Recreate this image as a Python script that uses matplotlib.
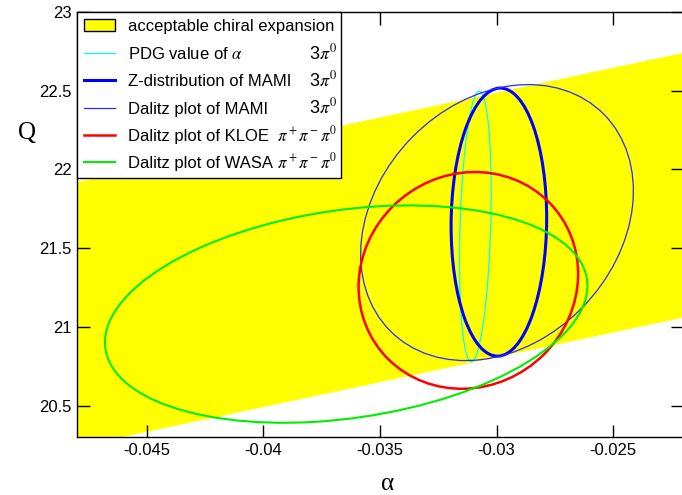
import numpy as np
import matplotlib
matplotlib.use("Agg")
import matplotlib.pyplot as plt
import matplotlib.transforms as transforms
from matplotlib.patches import Ellipse, Patch
from matplotlib.lines import Line2D

plt.rcParams['font.family'] = ['Liberation Sans', 'DejaVu Sans']
plt.rcParams['mathtext.fontset'] = 'stix'

# yellow band: acceptable chiral expansion
band_alpha = [-0.048, -0.022]
band_lower = [20.24, 21.06]
band_upper = [21.92, 22.74]

# ellipses: centre, half extent in alpha and Q, correlation
labels = ['PDG value of $\\alpha$', 'Z-distribution of MAMI', 'Dalitz plot of MAMI',
          'Dalitz plot of KLOE', 'Dalitz plot of WASA']
channels = ['3$\\pi^0$', '3$\\pi^0$', '3$\\pi^0$', '$\\pi^+\\pi^-\\pi^0$', '$\\pi^+\\pi^-\\pi^0$']
alpha_c = [-0.03091, -0.02990, -0.02998, -0.03121, -0.03645]
q_c = [21.638, 21.666, 21.663, 21.296, 21.082]
alpha_hw = [0.00068, 0.00205, 0.00585, 0.00471, 0.01035]
q_hw = [0.859, 0.851, 0.876, 0.688, 0.690]
rho = [0.25, 0.03, 0.23, 0.06, 0.26]

colors = ['#00ffff', '#0000ff', '#2a2aff', '#ff0000', '#00ee00']
widths = [0.9, 2.2, 0.9, 1.8, 1.5]
ch_sizes = [13, 13, 13, 12, 12]


def add_ellipse(ax, a0, q0, sa, sq, r, **kw):
    # unit ellipse with correlation r, stretched to the given half extents
    e = Ellipse((0, 0), width=2*np.sqrt(1 + r), height=2*np.sqrt(1 - r),
                facecolor='none', **kw)
    t = transforms.Affine2D().rotate_deg(45).scale(sa, sq).translate(a0, q0)
    e.set_transform(t + ax.transData)
    ax.add_patch(e)
    return e


fig = plt.figure(figsize=(6.82, 4.95), dpi=100)
ax = fig.add_axes([0.1129, 0.1166, 0.8886, 0.8592])

ax.fill_between(band_alpha, band_lower, band_upper, facecolor='yellow',
                edgecolor='none', zorder=1)

handles = [Patch(facecolor='yellow', edgecolor='black', lw=1.0)]
for i in range(len(labels)):
    add_ellipse(ax, alpha_c[i], q_c[i], alpha_hw[i], q_hw[i], rho[i],
                edgecolor=colors[i], lw=widths[i], zorder=2 + i)
    handles.append(Line2D([], [], color=colors[i], lw=widths[i]))

ax.set_xlim(-0.048, -0.022)
ax.set_ylim(20.3, 23)
ax.set_xticks([-0.045, -0.04, -0.035, -0.03, -0.025])
ax.set_xticklabels(['-0.045', '-0.04', '-0.035', '-0.03', '-0.025'])
ax.set_yticks([20.5, 21, 21.5, 22, 22.5, 23])
ax.set_yticklabels(['20.5', '21', '21.5', '22', '22.5', '23'])
ax.tick_params(direction='in', top=True, right=True, length=9, width=1,
               labelsize=12, pad=4)
for s in ax.spines.values():
    s.set_linewidth(1.0)

ax.set_xlabel('α', family='Liberation Serif', fontsize=18, va='center')
ax.xaxis.set_label_coords(0.513, -0.11)
ax.set_ylabel('Q', family='Liberation Serif', fontsize=18, rotation=0,
              ha='center', va='center')
ax.yaxis.set_label_coords(-0.0825, 0.7155)

leg = ax.legend(handles, ['acceptable chiral expansion'] + labels,
                loc='upper left', borderaxespad=0, fancybox=False,
                framealpha=1, edgecolor='black', fontsize=12,
                handlelength=1.9, handletextpad=0.75, borderpad=0.4,
                labelspacing=0.74)
leg.get_frame().set_linewidth(1.0)
leg.set_zorder(10)

# channel names on the right side of the legend
fig.canvas.draw()
renderer = fig.canvas.get_renderer()
fb = leg.get_frame().get_window_extent(renderer)
for txt, ch, fs in zip(leg.get_texts()[1:], channels, ch_sizes):
    bb = txt.get_window_extent(renderer)
    _, _, d = renderer.get_text_width_height_descent('lp', txt.get_fontproperties(), ismath=False)
    fig.text(fb.x1 - 4, bb.y0 + d, ch, transform=None, fontsize=fs,
             ha='right', va='baseline', zorder=20)

fig.savefig('out.png', dpi=100)
